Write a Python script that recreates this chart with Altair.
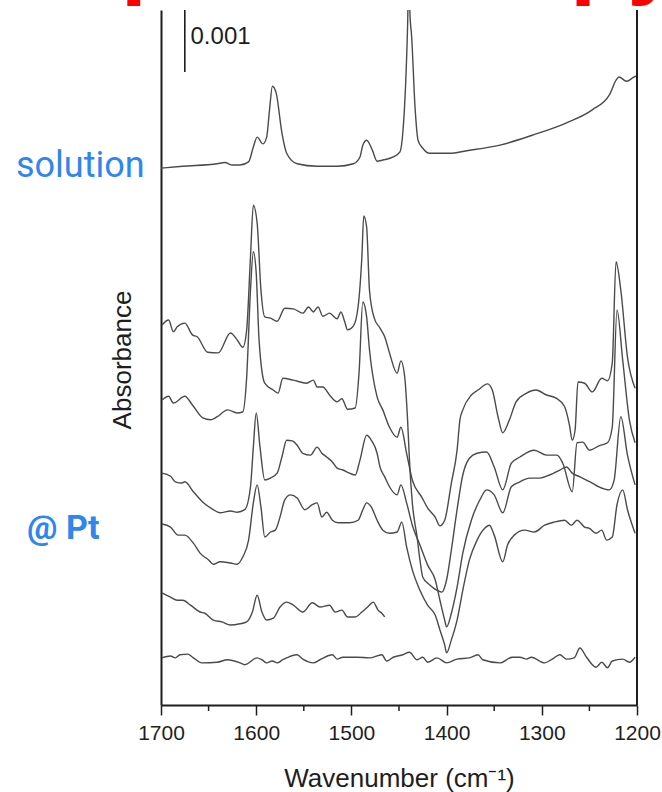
import altair as alt
import pandas as pd

# ---------------- data (wavenumber in cm-1, absorbance in units of 0.001) -------------
SOL_WN = [1700,1677,1641,1633,1625,1617,1608,1603,1599,1593,1589,1586,1583,1579,1573,1568,1557,1536,1515,1498,
          1491,1488,1484,1478,1473,1467,1456,1449,1446,1443,1441,1440,1438,1437,1433,1430,1425,1418,1410,1397,
          1379,1344,1310,1274,1247,1229,1222,1219,1211,1203,1200]
SOL_A = [8.66,8.69,8.73,8.75,8.71,8.71,8.76,9.00,9.16,9.05,9.16,9.60,9.98,9.87,9.23,8.90,8.73,8.69,8.69,8.73,
         8.84,9.03,9.11,8.95,8.77,8.79,8.84,8.92,9.23,10.03,10.94,11.6,11.0,10.84,9.60,9.11,8.98,8.90,8.90,8.90,
         8.94,9.03,9.19,9.39,9.60,9.84,10.08,10.13,10.06,10.13,10.15]

PT1_WN = [1699,1692,1687,1683,1675,1667,1662,1651,1640,1627,1620,1614,1610,1606,1603,1599,1595,1591,1585,1578,
          1570,1561,1551,1545,1540,1535,1530,1523,1515,1511,1507,1504,1498,1493,1489,1487,1484,1481,1476,1470,
          1465,1460,1452,1448,1444,1441,1439,1436,1431,1428,1425,1418,1410,1405,1400,1395,1389,1383,1376,1368,
          1358,1350,1341,1332,1323,1308,1295,1284,1278,1268,1263,1257,1250,1240,1231,1226,1221,1215,1208,1202]
PT1_A = [6.13,6.21,6.02,6.10,6.16,5.97,5.94,5.69,5.68,6.00,5.89,5.77,6.05,7.23,8.06,7.77,6.69,6.26,6.24,6.19,
         6.40,6.39,6.32,6.42,6.34,6.42,6.27,6.32,6.23,6.34,6.18,6.05,6.11,6.42,7.23,7.89,7.71,6.69,6.24,6.08,
         5.94,5.68,5.35,5.55,5.29,4.60,3.95,3.26,2.71,2.34,2.06,1.94,1.85,1.82,2.02,2.50,3.15,3.71,3.98,4.06,
         4.08,3.84,3.47,3.90,4.00,4.11,4.03,4.03,3.90,3.44,4.23,4.24,4.11,4.18,4.23,4.48,6.37,5.56,4.60,4.23]

PT2_WN = [1699,1692,1687,1675,1667,1656,1648,1641,1630,1620,1614,1610,1606,1603,1600,1597,1591,1582,1577,1572,
          1561,1547,1540,1536,1530,1523,1515,1510,1504,1496,1492,1488,1484,1481,1473,1467,1460,1452,1448,1442,
          1436,1426,1420,1412,1407,1402,1395,1389,1386,1383,1374,1367,1357,1352,1346,1341,1334,1327,1316,1306,
          1295,1285,1276,1271,1268,1265,1262,1255,1247,1237,1231,1226,1222,1217,1210,1202]
PT2_A = [4.92,4.98,4.87,4.98,4.84,4.63,4.60,4.65,4.76,4.71,4.73,5.29,6.69,7.31,6.97,5.89,5.19,5.08,5.03,5.27,
         5.24,5.19,5.24,5.13,5.13,5.00,4.89,4.94,4.77,4.79,5.35,6.50,6.26,5.73,4.97,4.76,4.48,4.32,4.48,4.06,
         3.63,3.35,3.18,3.03,2.89,2.98,3.58,4.11,4.60,4.76,5.00,5.08,5.18,5.08,4.65,4.39,4.60,4.89,5.03,5.08,
         5.00,4.95,4.81,4.52,4.27,4.44,5.21,5.19,5.05,5.27,5.23,5.52,7.15,6.69,5.61,5.11]

PT3_WN = [1699,1690,1685,1678,1675,1666,1656,1646,1638,1627,1620,1612,1606,1603,1600,1596,1591,1585,1578,1573,
          1568,1562,1557,1551,1543,1536,1531,1526,1520,1515,1509,1502,1496,1491,1484,1479,1473,1470,1465,1460,
          1452,1448,1442,1436,1428,1420,1412,1407,1402,1400,1395,1389,1383,1374,1365,1358,1350,1341,1332,1323,
          1313,1302,1292,1281,1274,1268,1260,1247,1240,1229,1224,1217,1210,1202]
PT3_A = [3.74,3.69,3.60,3.58,3.60,3.44,3.27,3.16,3.10,3.13,3.11,3.15,3.52,4.16,4.71,4.16,3.63,3.66,3.74,4.00,
         4.27,4.26,4.19,4.06,4.03,4.16,4.06,4.00,3.92,3.82,3.79,3.74,3.71,3.95,4.35,4.27,4.06,3.84,3.68,3.52,
         3.39,3.55,3.26,2.90,2.58,2.26,2.02,1.69,1.37,1.26,1.48,1.90,2.45,2.98,3.31,3.47,3.39,3.10,3.52,3.60,
         3.66,3.66,3.71,3.79,3.84,3.74,3.68,3.58,3.52,3.47,3.63,4.65,4.03,3.55]

PT4_WN = [1699,1690,1682,1675,1666,1659,1650,1645,1638,1627,1620,1614,1608,1603,1599,1595,1591,1585,1580,1575,
          1570,1564,1557,1549,1541,1536,1531,1526,1520,1514,1502,1493,1488,1484,1479,1473,1467,1460,1452,1447,
          1442,1436,1428,1420,1412,1407,1402,1400,1395,1389,1383,1376,1368,1360,1355,1350,1341,1336,1329,1318,
          1308,1297,1287,1276,1269,1263,1255,1250,1243,1237,1232,1226,1221,1215,1210,1202]
PT4_A = [2.92,2.87,2.74,2.74,2.61,2.45,2.34,2.27,2.31,2.29,2.27,2.39,2.66,3.26,3.55,3.19,2.71,2.79,2.82,3.03,
         3.31,3.39,3.34,3.15,3.23,3.26,3.03,3.11,2.98,2.94,2.94,2.98,3.15,3.26,3.19,2.98,2.82,2.77,2.79,2.95,
         2.55,2.18,1.85,1.61,1.45,1.21,0.97,0.84,1.05,1.37,1.85,2.34,2.66,2.85,2.90,2.74,2.31,2.58,2.74,2.82,
         2.79,2.90,2.95,2.98,2.90,2.98,2.87,2.85,2.77,2.82,2.66,2.71,3.23,3.47,3.15,2.77]

PT5_WN = [1699,1690,1683,1677,1669,1659,1654,1645,1636,1627,1617,1610,1604,1599,1594,1589,1582,1575,1568,1561,
          1551,1541,1533,1523,1517,1510,1504,1496,1489,1483,1477,1472,1468,1465]
PT5_A = [1.81,1.74,1.69,1.69,1.61,1.50,1.48,1.37,1.34,1.29,1.31,1.34,1.50,1.77,1.50,1.37,1.40,1.58,1.66,1.61,
         1.50,1.65,1.58,1.61,1.50,1.53,1.42,1.42,1.50,1.58,1.66,1.53,1.48,1.42]

PT6_WN = [1699,1690,1685,1680,1672,1666,1657,1641,1630,1617,1612,1599,1594,1589,1583,1578,1572,1557,1551,1540,
          1533,1520,1515,1509,1494,1481,1468,1463,1456,1446,1439,1431,1425,1420,1410,1400,1389,1376,1367,1362,
          1344,1331,1323,1316,1311,1297,1289,1281,1274,1266,1260,1253,1243,1237,1231,1226,1215,1208,1202]
PT6_A = [0.76,0.79,0.76,0.81,0.82,0.76,0.68,0.69,0.73,0.68,0.65,0.76,0.73,0.68,0.71,0.68,0.73,0.81,0.74,0.68,
         0.73,0.81,0.74,0.77,0.77,0.76,0.81,0.71,0.77,0.81,0.85,0.73,0.77,0.69,0.76,0.68,0.74,0.76,0.81,0.73,
         0.68,0.77,0.77,0.74,0.77,0.68,0.74,0.81,0.74,0.76,0.92,0.77,0.61,0.69,0.60,0.71,0.74,0.69,0.77]

X_TICKS = [1700, 1600, 1500, 1400, 1300, 1200]
X_MINOR = [1650, 1550, 1450, 1350, 1250]
SCALE_BAR_WN = [1675]
SCALE_BAR_FROM = [10.21]
SCALE_BAR_TO = [11.21]
SCALE_LABEL = ["0.001"]
SCALE_LABEL_WN = [1669]
SCALE_LABEL_A = [10.77]

# ---------------- build table ----------------
series = [("solution", SOL_WN, SOL_A), ("pt1", PT1_WN, PT1_A), ("pt2", PT2_WN, PT2_A),
          ("pt3", PT3_WN, PT3_A), ("pt4", PT4_WN, PT4_A), ("pt5", PT5_WN, PT5_A), ("pt6", PT6_WN, PT6_A)]
rows = []
for name, wn, a in series:
    assert len(wn) == len(a), name
    for i, (w, v) in enumerate(zip(wn, a)):
        rows.append({"series": name, "wn": w, "a": v, "idx": i})
df = pd.DataFrame(rows)

W, H = 476, 695
FONT = "Liberation Sans"
INK = "#1e1e1e"

xscale = alt.Scale(domain=[1200, 1700], reverse=True, nice=False, zero=False)
yscale = alt.Scale(domain=[0, 11.21], nice=False, zero=False)

x_axis = alt.Axis(values=X_TICKS, format="d", tickSize=10, tickWidth=1.5, tickColor=INK,
                  domainColor=INK, domainWidth=2, labelFont=FONT, labelFontSize=21,
                  labelColor=INK, labelPadding=7, grid=False, labelFlush=False,
                  title="Wavenumber (cm\u207b\u00b9)", titleFont=FONT, titleFontSize=26,
                  titleFontWeight="normal", titleColor=INK, titleY=81,
                  titleBaseline="alphabetic")
y_axis = alt.Axis(ticks=False, labels=False, title=None, grid=False,
                  domainColor=INK, domainWidth=2)

X = alt.X("wn:Q", scale=xscale, axis=x_axis)
Y = alt.Y("a:Q", scale=yscale, axis=y_axis)

lines = alt.Chart(df).mark_line(clip=True, color="#4a4a4a", strokeWidth=1.4, interpolate="monotone").encode(
    x=X, y=Y, detail="series:N", order="idx:Q",
)

minor = alt.Chart(pd.DataFrame({"wn": X_MINOR})).mark_rule(color=INK, strokeWidth=1.5).encode(
    x=X, y=alt.value(H), y2=alt.value(H + 6),
)

right_frame = alt.Chart(pd.DataFrame({"k": [0]})).mark_rule(color=INK, strokeWidth=2).encode(
    x=alt.value(W), y=alt.value(0), y2=alt.value(H),
)

bar = alt.Chart(pd.DataFrame({"wn": SCALE_BAR_WN, "a": SCALE_BAR_FROM, "a2": SCALE_BAR_TO})).mark_rule(
    color=INK, strokeWidth=1.6).encode(
    x=X, y=Y, y2="a2:Q",
)

bar_label = alt.Chart(pd.DataFrame({"wn": SCALE_LABEL_WN, "a": SCALE_LABEL_A, "t": SCALE_LABEL})).mark_text(
    align="left", baseline="middle", font=FONT, fontSize=24, color=INK).encode(
    x=X, y=Y, text="t:N",
)

def label(text, x, y, **kw):
    return alt.Chart(pd.DataFrame({"t": [text]})).mark_text(**kw).encode(
        text="t:N", x=alt.value(x), y=alt.value(y))

y_title = label("Absorbance", -38, 350, angle=270, align="center", baseline="middle",
                font=FONT, fontSize=26, color=INK)
solution = label("solution", -145, 167, align="left", baseline="alphabetic",
                 font="Roboto", fontSize=36, color="#2f86ee")
at_pt = label("@ Pt", -134, 529, align="left", baseline="alphabetic",
              font="Roboto", fontSize=34, fontWeight="bold", color="#2f86ee")
red_title = label("Spectroscopy", -103, -24, align="left", baseline="alphabetic",
                  font=FONT, fontSize=94, fontWeight="bold", color="#ff0000")

chart = alt.layer(lines, minor, right_frame, bar, bar_label, y_title, solution, at_pt, red_title).properties(
    width=W, height=H,
    autosize=alt.AutoSizeParams(type="none"),
    padding={"left": 161, "top": 10, "right": 25, "bottom": 87},
).configure_view(stroke=None)

chart.save("out.html", embed_options={"renderer": "svg", "actions": False})
